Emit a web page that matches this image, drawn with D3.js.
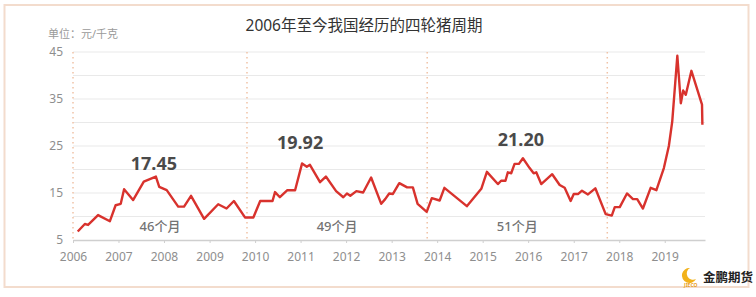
<!DOCTYPE html>
<html>
<head>
<meta charset="utf-8">
<script src="https://cdn.jsdelivr.net/npm/d3@7"></script>
<style>
  body { margin: 0; background: #fff; }
  #wrapper { width: 756px; height: 297px; }
</style>
</head>
<body>
<div id="wrapper"></div>
<script>
// pork price, yuan/kg
const dates = [
  "2006-02-08", "2006-04-06", "2006-05-02", "2006-07-21", "2006-10-24", "2006-12-09",
  "2007-01-19", "2007-02-15", "2007-04-28", "2007-07-23", "2007-10-28", "2007-11-24",
  "2008-01-23", "2008-04-24", "2008-06-10", "2008-08-05", "2008-11-18", "2009-03-11",
  "2009-05-17", "2009-07-15", "2009-10-12", "2009-12-18", "2010-02-11", "2010-05-21",
  "2010-06-10", "2010-07-19", "2010-09-17", "2010-11-18", "2011-01-13", "2011-02-20",
  "2011-03-17", "2011-06-06", "2011-07-23", "2011-10-13", "2011-12-10", "2012-01-08",
  "2012-02-04", "2012-03-24", "2012-05-17", "2012-07-20", "2012-10-09", "2012-11-10",
  "2012-12-12", "2013-01-11", "2013-03-03", "2013-05-05", "2013-06-20", "2013-07-28",
  "2013-10-09", "2013-11-19", "2014-01-21", "2014-02-28", "2014-08-27", "2014-12-21",
  "2015-02-04", "2015-05-03", "2015-05-29", "2015-07-03", "2015-07-22", "2015-08-18",
  "2015-09-14", "2015-10-19", "2015-11-20", "2016-01-13", "2016-02-14", "2016-03-06",
  "2016-04-15", "2016-07-12", "2016-09-10", "2016-10-20", "2016-12-07", "2017-01-01",
  "2017-02-06", "2017-03-08", "2017-04-25", "2017-06-23", "2017-09-14", "2017-11-02",
  "2017-11-26", "2018-01-05", "2018-03-04", "2018-04-21", "2018-05-25", "2018-07-10",
  "2018-09-10", "2018-10-26", "2018-12-25", "2019-02-03", "2019-03-02", "2019-04-12",
  "2019-05-10", "2019-05-29", "2019-06-19", "2019-08-03", "2019-10-27", "2019-10-30",
];
const prices = [
  6.8, 8.4, 8.2, 10.3, 9.0, 12.4,
  12.7, 15.8, 13.5, 17.4, 18.5, 16.3,
  15.6, 12.1, 12.1, 14.4, 9.5, 12.6,
  11.7, 13.3, 9.8, 9.8, 13.3, 13.3,
  15.2, 14.1, 15.6, 15.6, 21.3, 20.6,
  21.0, 17.3, 18.5, 15.4, 14.1, 14.9,
  14.4, 15.4, 15.1, 18.3, 12.7, 13.7,
  14.9, 14.8, 17.1, 16.2, 16.2, 12.7,
  11.0, 13.9, 13.4, 16.1, 12.2, 15.9,
  19.5, 16.9, 17.6, 17.6, 19.4, 19.2,
  21.2, 21.2, 22.4, 20.3, 19.2, 19.4,
  16.9, 19.0, 16.7, 16.1, 13.3, 14.8,
  14.8, 15.5, 14.7, 16.0, 10.5, 10.2,
  12.0, 12.0, 14.9, 13.7, 13.7, 11.7,
  16.1, 15.6, 20.3, 25.0, 30.2, 44.2,
  34.1, 36.8, 35.9, 41.0, 33.8, 29.5,
];

// cycle boundaries (dotted lines) and their labels
const cycleStarts = ["2006-01-01", "2009-10-28", "2013-10-13", "2017-09-27"];
const cycleLengths = ["46个月", "49个月", "51个月"];
const peakLabels = ["17.45", "19.92", "21.20"];

const yearTicks = d3.range(2006, 2020);
const yLabelTicks = [5, 15, 25, 35, 45];
const yGridTicks = d3.range(5, 46, 5);

const titleText = "2006年至今我国经历的四轮猪周期";
const unitText = "单位：元/千克";

function drawChart() {
  const parseDate = d3.timeParse("%Y-%m-%d");
  const dataset = dates.map((d, i) => ({ date: parseDate(d), price: prices[i] }));

  let dimensions = {
    width: 756,
    height: 297,
    margin: { top: 52, right: 51, bottom: 57, left: 73 },
  };
  dimensions.boundedWidth =
    dimensions.width - dimensions.margin.left - dimensions.margin.right;
  dimensions.boundedHeight =
    dimensions.height - dimensions.margin.top - dimensions.margin.bottom;

  const font = "'Noto Sans', 'Noto Sans CJK SC', sans-serif";
  // how far above its peak each value label sits (px)
  const peakLabelGap = [7, 14, 12];

  const wrapper = d3
    .select("#wrapper")
    .append("svg")
    .attr("width", dimensions.width)
    .attr("height", dimensions.height)
    .style("font-family", font);

  // outer frame
  wrapper
    .append("rect")
    .attr("x", 4.5)
    .attr("y", 5)
    .attr("width", 744)
    .attr("height", 282)
    .attr("fill", "#fff")
    .attr("stroke", "#f3dccd")
    .attr("stroke-width", 2);

  wrapper
    .append("text")
    .attr("x", 364)
    .attr("y", 31)
    .attr("text-anchor", "middle")
    .attr("fill", "#333")
    .style("font-size", "15.5px")
    .text(titleText);

  wrapper
    .append("text")
    .attr("x", 48)
    .attr("y", 38)
    .attr("fill", "#9a9a9a")
    .style("font-size", "11px")
    .text(unitText);

  const bounds = wrapper
    .append("g")
    .style(
      "transform",
      `translate(${dimensions.margin.left}px, ${dimensions.margin.top}px)`
    );

  // scales
  const xScale = d3
    .scaleTime()
    .domain([parseDate("2006-01-01"), parseDate("2019-11-20")])
    .range([0, dimensions.boundedWidth]);

  const yScale = d3
    .scaleLinear()
    .domain([5, 45])
    .range([dimensions.boundedHeight, 0]);

  // gridlines
  bounds
    .append("g")
    .selectAll("line")
    .data(yGridTicks.filter((d) => d !== 5))
    .join("line")
    .attr("x1", 0)
    .attr("x2", dimensions.boundedWidth)
    .attr("y1", (d) => yScale(d))
    .attr("y2", (d) => yScale(d))
    .attr("stroke", "#e9e9e9")
    .attr("stroke-width", 1);

  // y labels
  const yAxis = bounds
    .append("g")
    .call(d3.axisLeft(yScale).tickValues(yLabelTicks).tickSize(0).tickPadding(10));
  yAxis.select(".domain").remove();
  yAxis
    .selectAll("text")
    .attr("fill", "#8e8e8e")
    .style("font-size", "12px")
    .style("font-family", font);

  // x axis
  const xAxis = bounds
    .append("g")
    .style("transform", `translateY(${dimensions.boundedHeight}px)`)
    .call(
      d3
        .axisBottom(xScale)
        .tickValues(yearTicks.map((y) => new Date(y, 0, 1)))
        .tickFormat(d3.timeFormat("%Y"))
        .tickSize(3)
        .tickSizeOuter(0)
        .tickPadding(9)
    );
  xAxis.select(".domain").attr("stroke", "#cfcfcf").attr("stroke-width", 1.5);
  xAxis.selectAll(".tick line").attr("stroke", "#cfcfcf");
  xAxis
    .selectAll("text")
    .attr("fill", "#8e8e8e")
    .style("font-size", "12px")
    .style("font-family", font);

  // dotted cycle separators
  const starts = cycleStarts.map(parseDate);
  bounds
    .append("g")
    .selectAll("line")
    .data(starts)
    .join("line")
    .attr("x1", (d) => xScale(d))
    .attr("x2", (d) => xScale(d))
    .attr("y1", 0)
    .attr("y2", dimensions.boundedHeight)
    .attr("stroke", "#f0c2a6")
    .attr("stroke-width", 1.5)
    .style("stroke-dasharray", "1.5px 3.5px");

  // price line
  const lineGenerator = d3
    .line()
    .x((d) => xScale(d.date))
    .y((d) => yScale(d.price));

  bounds
    .append("path")
    .datum(dataset)
    .attr("d", lineGenerator)
    .attr("fill", "none")
    .attr("stroke", "#d8322d")
    .attr("stroke-width", 2.4)
    .attr("stroke-linejoin", "round");

  // cycle annotations: length in the middle, peak value above the top
  cycleLengths.forEach((label, i) => {
    const x0 = xScale(starts[i]);
    const x1 = xScale(starts[i + 1]);
    bounds
      .append("text")
      .attr("x", (x0 + x1) / 2)
      .attr("y", dimensions.boundedHeight - 9)
      .attr("text-anchor", "middle")
      .attr("fill", "#737373")
      .style("font-size", "13px")
      .style("font-weight", 500)
      .text(label);

    const inCycle = dataset.filter((d) => d.date >= starts[i] && d.date < starts[i + 1]);
    const peak = d3.greatest(inCycle, (d) => d.price);
    bounds
      .append("text")
      .attr("x", xScale(peak.date) - 2)
      .attr("y", yScale(peak.price) - peakLabelGap[i])
      .attr("text-anchor", "middle")
      .attr("fill", "#4a4a4a")
      .style("font-size", "18px")
      .style("font-weight", "bold")
      .text(peakLabels[i]);
  });

  // logo in the corner
  const logo = wrapper.append("g").style("transform", "translate(684px, 268px)");
  logo
    .append("path")
    .attr("d", "M6,0 A7.5,7.5 0 1 0 12,11 A6,6 0 0 1 6,0 Z")
    .attr("fill", "#f2b21b");
  logo
    .append("text")
    .attr("x", 0)
    .attr("y", 19)
    .attr("fill", "#e8a01a")
    .style("font-size", "5px")
    .style("font-weight", "bold")
    .text("JIECO");
  logo
    .append("text")
    .attr("x", 19)
    .attr("y", 14)
    .attr("fill", "#222")
    .style("font-size", "12.5px")
    .style("font-weight", "bold")
    .style("font-family", "'Noto Sans CJK SC', serif")
    .text("金鹏期货");
}

drawChart();
</script>
</body>
</html>
